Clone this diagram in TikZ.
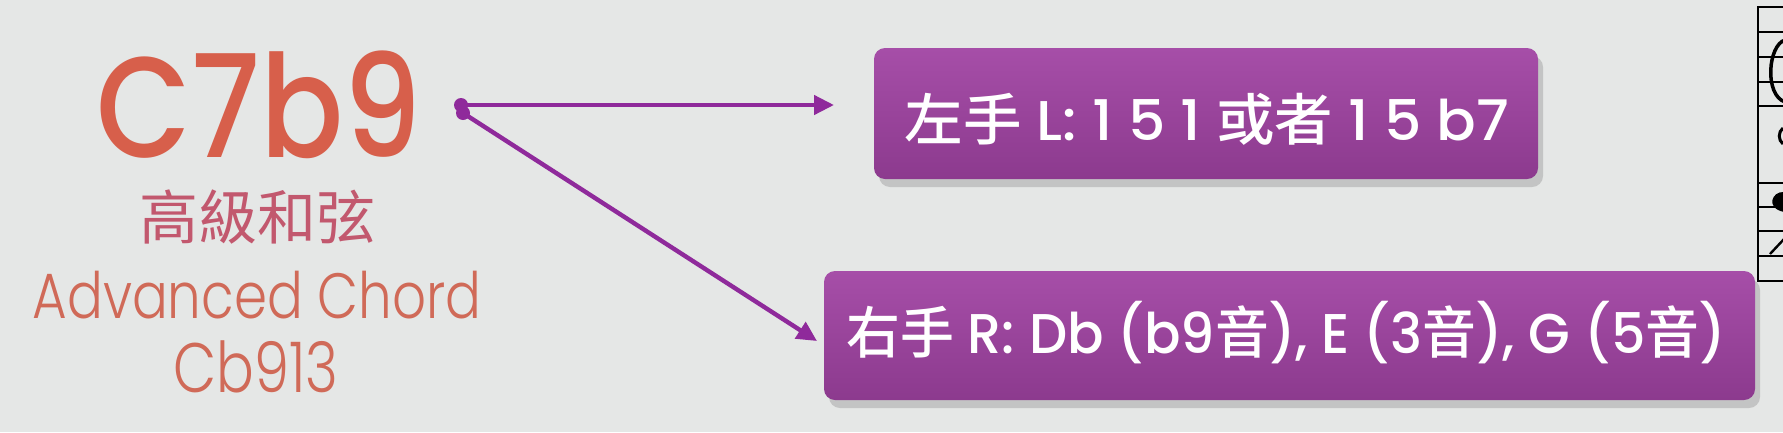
\documentclass[tikz,border=0pt]{standalone}
\usepackage{fontspec}
\IfFontExistsTF{Poppins Medium}
  {\setmainfont{Poppins}[BoldFont={Poppins Medium}]}
  {\setmainfont{Poppins}}
\IfFontExistsTF{Poppins Light}
  {\newfontfamily\poplight{Poppins Light}}
  {\newfontfamily\poplight{Poppins}}
\IfFontExistsTF{Noto Sans CJK TC Medium}
  {\newfontfamily\cjk{Noto Sans CJK TC}[BoldFont={Noto Sans CJK TC Medium}]}
  {\newfontfamily\cjk{Noto Sans CJK TC}}
\usetikzlibrary{arrows.meta,shadows}
\definecolor{bg}{HTML}{E5E7E6}
\definecolor{boxtop}{HTML}{A64EA8}
\definecolor{boxbot}{HTML}{8C3A8E}
\definecolor{arrowc}{HTML}{8F2A9B}
\definecolor{titlec}{HTML}{D75F4B}
\definecolor{subc}{HTML}{C2586E}
\definecolor{engc}{HTML}{D06A58}
\tikzset{
  handbox/.style={rounded corners=11pt, top color=boxtop, bottom color=boxbot,
    draw=none, text=white, inner sep=0pt,
    drop shadow={opacity=0.22, shadow xshift=5pt, shadow yshift=-8pt, fill=black!70}},
  handtext/.style={text=white, inner sep=0pt, font=\bfseries\fontsize{56}{60}\selectfont, transform shape},
  link/.style={draw=arrowc, line width=4.4pt, -{Triangle[length=20pt,width=19pt]}},
  staffline/.style={line width=2.6pt, black},
  lefttext/.style={anchor=base, inner sep=0pt, text depth=0pt, transform shape}
}
\begin{document}
\begin{tikzpicture}[x=1pt,y=-1pt]
\useasboundingbox (0,0) rectangle (1783,432);
\fill[bg] (0,0) rectangle (1783,432);

% staff at right edge
\draw[staffline] (1758,6) -- (1758,282);
\foreach \yy in {7,32,57,82,106,183,207,231,256,281}
  \draw[staffline] (1758,\yy) -- (1785,\yy);
\draw[line width=3.5pt] (1785,40) .. controls (1768,45) and (1764,95) .. (1785,102);
\draw[line width=3pt] (1783,128) .. controls (1778,132) and (1778,140) .. (1783,144);
\fill (1784,192) .. controls (1772,191) and (1765,208) .. (1784,212) -- cycle;
\draw[line width=2.4pt] (1770,254) -- (1785,238);

% left text
\node[lefttext, text=titlec, font=\fontsize{143}{150}\selectfont\bfseries, xscale=0.86] (title) at (259,157) {C7b9};
\node[lefttext, text=subc, font=\cjk\fontsize{59}{62}\selectfont] (sub) at (257,239) {高級和弦};
\node[lefttext, text=engc, font=\poplight\fontsize{64}{66}\selectfont, xscale=0.83] (eng) at (257,318) {Advanced Chord};
\node[lefttext, text=engc, font=\poplight\fontsize{70}{72}\selectfont, xscale=0.8] (code) at (256,392) {Cb913};

% boxes
\node[handbox, minimum width=664pt, minimum height=131pt] (left) at (1206,113.5) {};
\node[handtext, xscale=1.045] (lefttxt) at (1207,119)
  {{\cjk\bfseries 左手} L: 1 5 1 {\cjk\bfseries 或者} 1 5 b7};
\node[handbox, minimum width=931pt, minimum height=129pt] (right) at (1289.5,335.5) {};
\node[handtext, xscale=0.962] (righttxt) at (1286,333)
  {{\cjk\bfseries 右手} R: Db (b9{\cjk\bfseries 音}), E (3{\cjk\bfseries 音}), G (5{\cjk\bfseries 音})};

% connectors
\coordinate (s1) at (461,105);
\coordinate (s2) at (463,113);
\coordinate (e1) at (834,105);
\coordinate (e2) at (817,341);
\fill[arrowc] (s1) circle (7pt);
\fill[arrowc] (s2) circle (7pt);
\draw[link] (s1) -- (e1);
\draw[link] (s2) -- (e2);
\end{tikzpicture}
\end{document}
